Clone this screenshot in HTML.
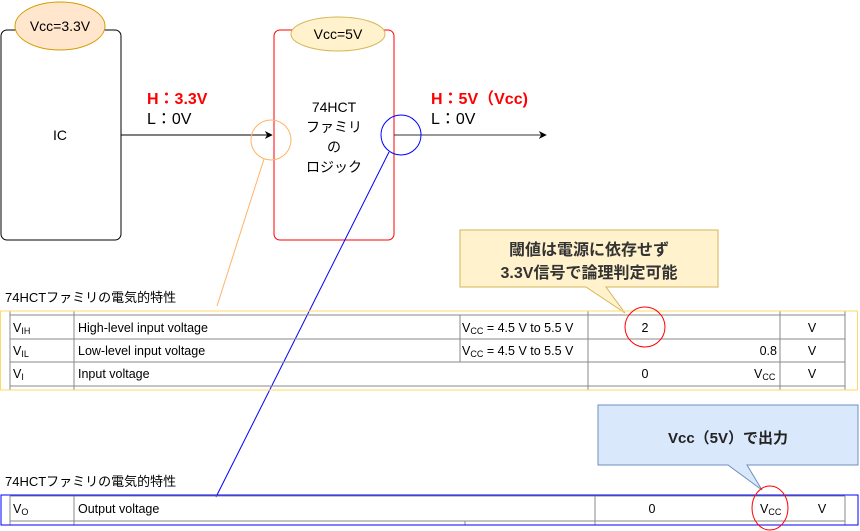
<!DOCTYPE html>
<html><head><meta charset="utf-8"><style>
body{margin:0;background:#fff}
svg{display:block;font-family:"Liberation Sans","Noto Sans CJK JP",sans-serif}
</style></head><body>
<svg width="860" height="531" viewBox="0 0 860 531" xmlns="http://www.w3.org/2000/svg">
<defs><marker id="ah" viewBox="0 0 10 10" refX="9" refY="5" markerWidth="8" markerHeight="8" orient="auto"><path d="M0,0 L10,5 L0,10 L3,5 z" fill="#000"/></marker></defs>
<rect x="1" y="30" width="120" height="210" rx="6" fill="#fff" stroke="#000"/>
<ellipse cx="60" cy="26" rx="45" ry="24" fill="#ffe6cc" stroke="#d79b00"/>
<text x="60" y="31" font-size="14" text-anchor="middle">Vcc=3.3V</text>
<text x="60" y="140" font-size="14" text-anchor="middle">IC</text>
<rect x="274" y="30" width="120" height="210" rx="6" fill="#fff" stroke="#ff0000"/>
<ellipse cx="338" cy="34" rx="47" ry="17" fill="#fff2cc" stroke="#d6b656"/>
<text x="338" y="39" font-size="14" text-anchor="middle">Vcc=5V</text>
<g font-size="14" text-anchor="middle">
<text x="334" y="112">74HCT</text><text x="334" y="132">ファミリ</text><text x="334" y="152">の</text><text x="334" y="172">ロジック</text></g>
<line x1="121" y1="135" x2="272" y2="135" stroke="#000" marker-end="url(#ah)"/>
<line x1="394" y1="135" x2="546" y2="135" stroke="#333" marker-end="url(#ah)"/>
<text x="147" y="104" font-size="16" font-weight="bold" fill="#ff0000">H：3.3V</text>
<text x="147" y="124" font-size="16">L：0V</text>
<text x="431" y="104" font-size="16" font-weight="bold" fill="#ff0000">H：5V（Vcc)</text>
<text x="431" y="124" font-size="16">L：0V</text>
<circle cx="271" cy="140" r="20" fill="none" stroke="#ffb366"/>
<circle cx="401" cy="135" r="20" fill="none" stroke="#0000ff"/>
<line x1="264" y1="159" x2="217" y2="306" stroke="#ffb366"/>
<line x1="389" y1="152" x2="216" y2="497" stroke="#0000ff"/>
<path d="M460,230 H718 V287 H606 L625,313 L586,287 H460 Z" fill="#fff2cc" stroke="#d6b656"/>
<text x="589" y="255" font-size="16" font-weight="bold" text-anchor="middle" fill="#333">閾値は電源に依存せず</text>
<text x="589" y="278" font-size="16" font-weight="bold" text-anchor="middle" fill="#333">3.3V信号で論理判定可能</text>
<text x="5" y="302" font-size="13">74HCTファミリの電気的特性</text>
<g stroke="#888" stroke-width="1" fill="none">
<line x1="10" y1="315" x2="845" y2="315"/><line x1="10" y1="339" x2="845" y2="339"/><line x1="10" y1="362" x2="845" y2="362"/><line x1="10" y1="386" x2="845" y2="386"/>
<line x1="10" y1="311" x2="10" y2="390"/><line x1="74" y1="311" x2="74" y2="390"/><line x1="460" y1="315" x2="460" y2="362"/><line x1="588" y1="311" x2="588" y2="390"/><line x1="780" y1="311" x2="780" y2="390"/><line x1="845" y1="311" x2="845" y2="390"/>
</g>
<rect x="0.5" y="311" width="857" height="79" fill="none" stroke="#ffd966"/>
<g font-size="12.5">
<text x="13" y="332">V<tspan font-size="9" dy="2">IH</tspan></text>
<text x="13" y="355">V<tspan font-size="9" dy="2">IL</tspan></text>
<text x="13" y="378">V<tspan font-size="9" dy="2">I</tspan></text>
<text x="78" y="332">High-level input voltage</text>
<text x="78" y="355">Low-level input voltage</text>
<text x="78" y="378">Input voltage</text>
<text x="462" y="332">V<tspan font-size="9" dy="2">CC</tspan><tspan dy="-2"> = 4.5 V to 5.5 V</tspan></text>
<text x="462" y="355">V<tspan font-size="9" dy="2">CC</tspan><tspan dy="-2"> = 4.5 V to 5.5 V</tspan></text>
<text x="645" y="332" text-anchor="middle">2</text>
<text x="777" y="355" text-anchor="end">0.8</text>
<text x="645" y="378" text-anchor="middle">0</text>
<text x="754" y="378">V<tspan font-size="9" dy="2">CC</tspan></text>
<text x="812" y="332" text-anchor="middle">V</text><text x="812" y="355" text-anchor="middle">V</text><text x="812" y="378" text-anchor="middle">V</text>
</g>
<circle cx="645" cy="327" r="20" fill="none" stroke="#ff0000"/>
<path d="M598,405 H858 V465 H747 L762,490 L728,465 H598 Z" fill="#dae8fc" stroke="#6c8ebf"/>
<text x="728" y="443" font-size="15" font-weight="bold" text-anchor="middle" fill="#222">Vcc（5V）で出力</text>
<text x="5" y="486" font-size="13">74HCTファミリの電気的特性</text>
<g stroke="#888" fill="none">
<line x1="10" y1="496" x2="845" y2="496"/><line x1="10" y1="521" x2="845" y2="521"/>
<line x1="10" y1="496" x2="10" y2="525"/><line x1="74" y1="496" x2="74" y2="525"/><line x1="465" y1="521" x2="465" y2="525"/><line x1="595" y1="496" x2="595" y2="525"/><line x1="845" y1="496" x2="845" y2="525"/>
</g>
<rect x="1" y="495" width="857" height="30" fill="none" stroke="#0000ff"/>
<g font-size="12.5">
<text x="13" y="513">V<tspan font-size="9" dy="2">O</tspan></text>
<text x="78" y="513">Output voltage</text>
<text x="652" y="513" text-anchor="middle">0</text>
<text x="760" y="513">V<tspan font-size="9" dy="2">CC</tspan></text>
<text x="822" y="513" text-anchor="middle">V</text>
</g>
<ellipse cx="770" cy="508" rx="18" ry="22" fill="none" stroke="#ff0000"/>
</svg>
</body></html>
